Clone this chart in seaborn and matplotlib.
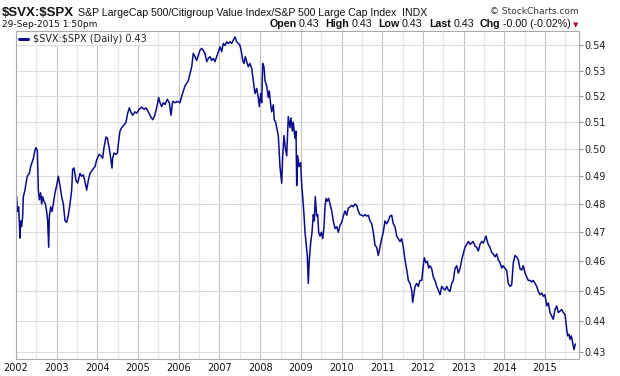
import matplotlib
matplotlib.use("Agg")
import matplotlib.pyplot as plt
import pandas as pd
import seaborn as sns
from matplotlib.ticker import FixedLocator, FixedFormatter, NullLocator
from matplotlib.transforms import IdentityTransform

# ratio $SVX:$SPX (decimal years)
years = [
    2002.016, 2002.033, 2002.066, 2002.098, 2002.115, 2002.139, 2002.164, 2002.180, 2002.221, 2002.246,
    2002.278, 2002.328, 2002.360, 2002.393, 2002.426, 2002.467, 2002.491, 2002.524, 2002.549, 2002.573,
    2002.606, 2002.631, 2002.655, 2002.688, 2002.721, 2002.754, 2002.778, 2002.803, 2002.819, 2002.852,
    2002.885, 2002.917, 2002.958, 2002.999, 2003.040, 2003.081, 2003.122, 2003.163, 2003.204, 2003.245,
    2003.286, 2003.327, 2003.368, 2003.392, 2003.425, 2003.474, 2003.515, 2003.572, 2003.613, 2003.654,
    2003.695, 2003.736, 2003.777, 2003.818, 2003.884, 2003.941, 2003.982, 2004.039, 2004.088, 2004.129,
    2004.162, 2004.211, 2004.244, 2004.277, 2004.310, 2004.359, 2004.375, 2004.408, 2004.457, 2004.490,
    2004.523, 2004.555, 2004.596, 2004.654, 2004.703, 2004.744, 2004.785, 2004.818, 2004.867, 2004.924,
    2004.965, 2005.030, 2005.088, 2005.145, 2005.194, 2005.251, 2005.309, 2005.358, 2005.399, 2005.456,
    2005.505, 2005.538, 2005.579, 2005.620, 2005.661, 2005.718, 2005.767, 2005.808, 2005.849, 2005.907,
    2005.964, 2006.029, 2006.071, 2006.152, 2006.233, 2006.317, 2006.356, 2006.398, 2006.440, 2006.479,
    2006.521, 2006.563, 2006.602, 2006.644, 2006.686, 2006.725, 2006.767, 2006.808, 2006.848, 2006.889,
    2006.931, 2006.971, 2007.012, 2007.054, 2007.093, 2007.135, 2007.177, 2007.216, 2007.258, 2007.300,
    2007.339, 2007.381, 2007.423, 2007.462, 2007.504, 2007.545, 2007.570, 2007.602, 2007.634, 2007.668,
    2007.708, 2007.749, 2007.791, 2007.830, 2007.872, 2007.914, 2007.953, 2007.978, 2008.012, 2008.037,
    2008.061, 2008.093, 2008.118, 2008.160, 2008.199, 2008.224, 2008.258, 2008.282, 2008.322, 2008.346,
    2008.381, 2008.405, 2008.445, 2008.469, 2008.486, 2008.528, 2008.553, 2008.585, 2008.617, 2008.651,
    2008.690, 2008.732, 2008.757, 2008.789, 2008.813, 2008.855, 2008.880, 2008.897, 2008.921, 2008.953,
    2008.995, 2009.020, 2009.044, 2009.076, 2009.101, 2009.125, 2009.157, 2009.182, 2009.206, 2009.241,
    2009.273, 2009.305, 2009.329, 2009.354, 2009.388, 2009.413, 2009.437, 2009.469, 2009.501, 2009.536,
    2009.568, 2009.592, 2009.617, 2009.649, 2009.683, 2009.715, 2009.757, 2009.796, 2009.838, 2009.880,
    2009.919, 2009.961, 2010.002, 2010.042, 2010.084, 2010.125, 2010.165, 2010.206, 2010.248, 2010.287,
    2010.329, 2010.371, 2010.410, 2010.452, 2010.494, 2010.533, 2010.575, 2010.617, 2010.656, 2010.698,
    2010.740, 2010.779, 2010.821, 2010.862, 2010.902, 2010.943, 2010.985, 2011.024, 2011.066, 2011.108,
    2011.147, 2011.189, 2011.231, 2011.270, 2011.312, 2011.354, 2011.393, 2011.435, 2011.477, 2011.516,
    2011.558, 2011.582, 2011.614, 2011.639, 2011.681, 2011.722, 2011.747, 2011.779, 2011.804, 2011.845,
    2011.885, 2011.926, 2011.968, 2012.007, 2012.032, 2012.074, 2012.106, 2012.140, 2012.172, 2012.214,
    2012.253, 2012.295, 2012.337, 2012.376, 2012.418, 2012.460, 2012.499, 2012.541, 2012.583, 2012.622,
    2012.664, 2012.705, 2012.745, 2012.786, 2012.828, 2012.868, 2012.909, 2012.951, 2012.990, 2013.032,
    2013.074, 2013.113, 2013.155, 2013.197, 2013.236, 2013.278, 2013.319, 2013.359, 2013.400, 2013.442,
    2013.482, 2013.523, 2013.548, 2013.580, 2013.604, 2013.646, 2013.688, 2013.727, 2013.769, 2013.811,
    2013.850, 2013.892, 2013.934, 2013.973, 2014.015, 2014.056, 2014.096, 2014.138, 2014.179, 2014.219,
    2014.260, 2014.302, 2014.341, 2014.383, 2014.425, 2014.464, 2014.506, 2014.548, 2014.587, 2014.629,
    2014.671, 2014.710, 2014.752, 2014.794, 2014.833, 2014.875, 2014.916, 2014.956, 2014.997, 2015.039,
    2015.079, 2015.120, 2015.162, 2015.201, 2015.243, 2015.285, 2015.324, 2015.366, 2015.408, 2015.447,
    2015.489, 2015.531, 2015.555, 2015.587, 2015.612, 2015.644, 2015.678, 2015.710, 2015.742,
]
ratio = [
    0.4826, 0.4773, 0.4790, 0.4680, 0.4740, 0.4720, 0.4757, 0.4826, 0.4850, 0.4875,
    0.4900, 0.4910, 0.4935, 0.4950, 0.4965, 0.4995, 0.5005, 0.4995, 0.4850, 0.4815,
    0.4840, 0.4800, 0.4826, 0.4810, 0.4800, 0.4773, 0.4740, 0.4648, 0.4757, 0.4790,
    0.4773, 0.4800, 0.4840, 0.4866, 0.4900, 0.4866, 0.4826, 0.4800, 0.4740, 0.4735,
    0.4760, 0.4800, 0.4850, 0.4925, 0.4930, 0.4885, 0.4875, 0.4910, 0.4900, 0.4905,
    0.4880, 0.4850, 0.4885, 0.4910, 0.4925, 0.4935, 0.4960, 0.4980, 0.4975, 0.4966,
    0.5005, 0.5045, 0.5040, 0.5015, 0.4985, 0.4930, 0.4966, 0.4985, 0.4980, 0.4985,
    0.5030, 0.5067, 0.5080, 0.5090, 0.5100, 0.5135, 0.5155, 0.5140, 0.5127, 0.5140,
    0.5135, 0.5150, 0.5158, 0.5150, 0.5155, 0.5140, 0.5122, 0.5110, 0.5122, 0.5155,
    0.5195, 0.5175, 0.5160, 0.5175, 0.5168, 0.5188, 0.5175, 0.5127, 0.5180, 0.5175,
    0.5180, 0.5175, 0.5200, 0.5240, 0.5260, 0.5315, 0.5368, 0.5355, 0.5340, 0.5360,
    0.5381, 0.5388, 0.5380, 0.5368, 0.5335, 0.5348, 0.5355, 0.5340, 0.5348, 0.5335,
    0.5355, 0.5375, 0.5394, 0.5375, 0.5408, 0.5400, 0.5414, 0.5408, 0.5414, 0.5408,
    0.5421, 0.5434, 0.5414, 0.5408, 0.5400, 0.5368, 0.5340, 0.5328, 0.5355, 0.5335,
    0.5315, 0.5328, 0.5308, 0.5260, 0.5210, 0.5230, 0.5195, 0.5160, 0.5210, 0.5175,
    0.5328, 0.5315, 0.5260, 0.5240, 0.5195, 0.5220, 0.5167, 0.5140, 0.5167, 0.5110,
    0.5100, 0.5080, 0.5050, 0.4985, 0.4935, 0.4875, 0.4975, 0.5050, 0.5005, 0.4975,
    0.5122, 0.5080, 0.5117, 0.5067, 0.5100, 0.5040, 0.5067, 0.4866, 0.4975, 0.4935,
    0.4950, 0.4866, 0.4826, 0.4762, 0.4700, 0.4665, 0.4620, 0.4525, 0.4605, 0.4665,
    0.4700, 0.4762, 0.4740, 0.4826, 0.4757, 0.4762, 0.4700, 0.4687, 0.4700, 0.4678,
    0.4720, 0.4790, 0.4820, 0.4810, 0.4820, 0.4800, 0.4775, 0.4740, 0.4713, 0.4720,
    0.4700, 0.4725, 0.4735, 0.4757, 0.4775, 0.4760, 0.4785, 0.4790, 0.4795, 0.4790,
    0.4800, 0.4795, 0.4775, 0.4762, 0.4760, 0.4757, 0.4762, 0.4757, 0.4760, 0.4740,
    0.4730, 0.4700, 0.4655, 0.4648, 0.4620, 0.4648, 0.4678, 0.4700, 0.4740, 0.4730,
    0.4740, 0.4757, 0.4760, 0.4730, 0.4720, 0.4687, 0.4678, 0.4668, 0.4678, 0.4648,
    0.4605, 0.4585, 0.4560, 0.4535, 0.4525, 0.4503, 0.4462, 0.4493, 0.4515, 0.4525,
    0.4515, 0.4535, 0.4535, 0.4585, 0.4612, 0.4595, 0.4600, 0.4577, 0.4585, 0.4575,
    0.4547, 0.4535, 0.4515, 0.4503, 0.4487, 0.4515, 0.4508, 0.4503, 0.4515, 0.4503,
    0.4498, 0.4525, 0.4535, 0.4575, 0.4585, 0.4560, 0.4575, 0.4605, 0.4625, 0.4648,
    0.4658, 0.4668, 0.4658, 0.4663, 0.4668, 0.4652, 0.4648, 0.4635, 0.4658, 0.4668,
    0.4663, 0.4678, 0.4687, 0.4668, 0.4658, 0.4648, 0.4630, 0.4625, 0.4615, 0.4625,
    0.4605, 0.4595, 0.4577, 0.4585, 0.4575, 0.4570, 0.4525, 0.4515, 0.4520, 0.4595,
    0.4620, 0.4615, 0.4605, 0.4575, 0.4570, 0.4585, 0.4560, 0.4547, 0.4535, 0.4535,
    0.4530, 0.4535, 0.4525, 0.4515, 0.4498, 0.4487, 0.4493, 0.4482, 0.4487, 0.4450,
    0.4460, 0.4428, 0.4417, 0.4406, 0.4438, 0.4450, 0.4428, 0.4433, 0.4438, 0.4428,
    0.4422, 0.4374, 0.4352, 0.4357, 0.4341, 0.4352, 0.4330, 0.4308, 0.4326,
]

ytick_vals = [0.43, 0.44, 0.45, 0.46, 0.47, 0.48, 0.49, 0.50, 0.51, 0.52, 0.53, 0.54]
ytick_labels = ["0.43", "0.44", "0.45", "0.46", "0.47", "0.48", "0.49", "0.50", "0.51", "0.52", "0.53", "0.54"]
year_ticks = list(range(2002, 2016))
year_labels = [str(y) for y in year_ticks]

LINE = "#0c0c8a"

sns.set_style("white")
plt.rcParams["font.family"] = ["DejaVu Sans"]

fig = plt.figure(figsize=(6.2, 3.76), dpi=100)
W, H = 620, 376
ax = fig.add_axes([16 / W, 17 / H, 563 / W, 328 / H])

df = pd.DataFrame({"year": years, "ratio": ratio})
sns.lineplot(data=df, x="year", y="ratio", ax=ax, color=LINE, lw=1.1,
             label=r"\$SVX:\$SPX (Daily) 0.43")

ax.set_yscale("log")
ax.set_ylim(0.4278, 0.5458)
ax.set_xlim(2002, 2015.833)
ax.yaxis.set_major_locator(FixedLocator(ytick_vals))
ax.yaxis.set_major_formatter(FixedFormatter(ytick_labels))
ax.yaxis.set_minor_locator(NullLocator())
ax.yaxis.tick_right()
ax.tick_params(axis="y", which="major", length=3, width=0.8, color="#999999",
               pad=1, labelsize=7, labelcolor="#222222")

ax.set_xticks(year_ticks)
ax.set_xticklabels(year_labels)
ax.set_xticks([y + 0.5 for y in year_ticks[:-1]] + [2015.5], minor=True)
ax.tick_params(axis="x", which="both", length=0, pad=3, labelsize=7, labelcolor="#111111")

ax.grid(axis="y", which="major", color="#dcdcdc", lw=0.8)
ax.grid(axis="x", which="major", color="#c4c4c4", lw=0.8)
ax.grid(axis="x", which="minor", color="#e6e6e6", lw=0.8)
ax.set_axisbelow(True)
for side in ["left", "right", "bottom", "top"]:
    ax.spines[side].set_color("#aaaaaa")
    ax.spines[side].set_linewidth(0.8)
ax.set_xlabel("")
ax.set_ylabel("")

leg = ax.legend(loc="upper left", bbox_to_anchor=(0, 1), frameon=True, fancybox=False,
                edgecolor="none", facecolor="white", framealpha=1, fontsize=7,
                handlelength=0.9, handletextpad=0.5, borderpad=0.15, borderaxespad=0.15)
leg.get_lines()[0].set_linewidth(2.2)
for t in leg.get_texts():
    t.set_color("#222222")

# header rows
rend = fig.canvas.get_renderer()


def row(parts, x, y, right=False):
    made = []
    for s, gap, kw in parts:
        t = fig.text(0, H - y, s, transform=IdentityTransform(), va="baseline", **kw)
        made.append((t, gap, t.get_window_extent(rend).width))
    total = sum(g + w for _, g, w in made)
    pos = x - total if right else x
    for t, g, w in made:
        pos += g
        t.set_x(pos)
        pos += w


BOLD = dict(family="Liberation Sans", weight="bold", color="#111111")
REG = dict(family="Liberation Sans", color="#111111")

row([(r"\$SVX:\$SPX", 0, dict(BOLD, fontsize=9.5)),
     ("S&P LargeCap 500/Citigroup Value Index/S&P 500 Large Cap Index  INDX", 4, dict(REG, fontsize=7.6))],
    2, 15.5)
fig.text(579, H - 14, "© StockCharts.com", transform=IdentityTransform(), ha="right",
         va="baseline", fontsize=6.5, color="#333333")
fig.text(2, H - 27, "29-Sep-2015 1:50pm", transform=IdentityTransform(), va="baseline",
         fontsize=6.5, color="#111111")

info = []
for lab, val in [("Open", "0.43"), ("High", "0.43"), ("Low", "0.43"), ("Last", "0.43"),
                 ("Chg", "-0.00 (-0.02%)")]:
    info.append((lab, 0 if not info else 6, dict(BOLD, fontsize=7.7)))
    info.append((val, 2.5, dict(REG, fontsize=7.7)))
info.append(("▼", 2, dict(family="DejaVu Sans", fontsize=5, color="#b0102a")))
row(info, 578, 27, right=True)

fig.savefig("out.png", dpi=100)
